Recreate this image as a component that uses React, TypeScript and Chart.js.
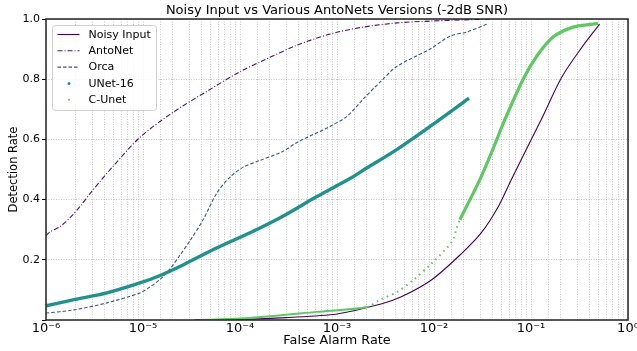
import React, { useEffect, useRef } from 'react';
import { Chart, registerables } from 'chart.js';

Chart.register(...registerables);

const TITLE = 'Noisy Input vs Various AntoNets Versions (-2dB SNR)';
const X_LABEL = 'False Alarm Rate';
const Y_LABEL = 'Detection Rate';

const SERIES_NAMES = ['Noisy Input', 'AntoNet', 'Orca', 'UNet-16', 'C-Unet'];

// Noisy Input
const noisyFar = [3.4e-5, 1e-4, 3e-4, 1e-3, 2.84e-3, 4.6e-3, 9.4e-3, 1.91e-2, 3.08e-2, 4.61e-2, 6.28e-2, 0.128, 0.206, 0.333, 0.51];
const noisyDr = [0.0, 0.002, 0.008, 0.02, 0.053, 0.077, 0.133, 0.22, 0.29, 0.377, 0.467, 0.667, 0.805, 0.905, 0.983];

// AntoNet
const antoFar = [1.0e-6, 1.1e-6, 1.39e-6, 1.77e-6, 2.24e-6, 2.84e-6, 3.6e-6, 4.9e-6, 9.3e-6, 2.04e-5, 4.57e-5, 1.0e-4, 1.73e-4, 3.87e-4, 8.47e-4, 1.85e-3, 4.16e-3, 9.1e-3, 1.99e-2, 3.78e-2];
const antoDr = [0.28, 0.293, 0.31, 0.34, 0.377, 0.42, 0.46, 0.51, 0.607, 0.69, 0.76, 0.825, 0.862, 0.913, 0.95, 0.973, 0.987, 0.993, 0.997, 1.0];

// Orca
const orcaFar = [1.0e-6, 1.9e-6, 4.25e-6, 9.3e-6, 1.18e-5, 1.5e-5, 1.9e-5, 2.4e-5, 3.05e-5, 4.16e-5, 5.8e-5, 7.9e-5, 1.07e-4, 1.6e-4, 2.77e-4, 3.87e-4, 8.47e-4, 1.27e-3, 1.85e-3, 2.77e-3, 4.16e-3, 9.1e-3, 1.46e-2, 2.19e-2, 3.52e-2];
const orcaDr = [0.023, 0.033, 0.057, 0.09, 0.11, 0.135, 0.17, 0.215, 0.263, 0.333, 0.423, 0.475, 0.507, 0.53, 0.56, 0.59, 0.643, 0.677, 0.733, 0.79, 0.843, 0.9, 0.943, 0.957, 0.983];

// UNet-16
const unetFar = [1e-6, 1.9e-6, 4.25e-6, 9.3e-6, 1.5e-5, 2.58e-5, 5.8e-5, 1.27e-4, 2.77e-4, 6.2e-4, 1.36e-3, 1.85e-3, 4.16e-3, 9.1e-3, 2.3e-2];
const unetDr = [0.047, 0.067, 0.09, 0.123, 0.148, 0.183, 0.24, 0.29, 0.345, 0.41, 0.47, 0.497, 0.567, 0.643, 0.737];

// C-Unet
const cunetFar = [3.87e-5, 1.27e-4, 6.2e-4, 2.04e-3, 2.77e-3, 4.16e-3, 6.1e-3, 9.1e-3, 1.53e-2, 1.73e-2, 1.85e-2, 2.35e-2, 2.98e-2, 3.96e-2, 5.4e-2, 8.3e-2, 0.115, 0.169, 0.271, 0.436, 0.49];
const cunetDr = [0.0, 0.007, 0.027, 0.043, 0.067, 0.093, 0.133, 0.183, 0.26, 0.31, 0.333, 0.4, 0.467, 0.56, 0.667, 0.8, 0.877, 0.94, 0.973, 0.983, 0.985];

const X_TICK_VALUES = [1e-6, 1e-5, 1e-4, 1e-3, 1e-2, 1e-1, 1];
const X_TICK_LABELS = ['10⁻⁶', '10⁻⁵', '10⁻⁴', '10⁻³', '10⁻²', '10⁻¹', '10⁰'];
const Y_TICK_VALUES = [0, 0.2, 0.4, 0.6, 0.8, 1.0];
const Y_TICK_LABELS = ['', '0.2', '0.4', '0.6', '0.8', '1.0'];

const COLORS = ['#440154', '#4a1070', '#3b528b', '#21918c', '#5ec962'];
const FONT = "'DejaVu Sans', sans-serif";

// C-Unet style breakpoints (where the curve changes from solid to sparse dots to thick)
const CUNET_SPARSE_FROM = 2.0e-3;
const CUNET_THICK_FROM = 1.8e-2;

const pts = (xs: number[], ys: number[]) => xs.map((x, i) => ({ x, y: ys[i] }));

const legendPlugin = {
  id: 'mplLegend',
  afterDraw(chart: any) {
    const { ctx, chartArea } = chart;
    const x0 = chartArea.left + 6.5;
    const y0 = chartArea.top + 6.5;
    const w = 104;
    const h = 85;
    const r = 3;
    ctx.save();
    ctx.beginPath();
    ctx.moveTo(x0 + r, y0);
    ctx.lineTo(x0 + w - r, y0);
    ctx.arcTo(x0 + w, y0, x0 + w, y0 + r, r);
    ctx.lineTo(x0 + w, y0 + h - r);
    ctx.arcTo(x0 + w, y0 + h, x0 + w - r, y0 + h, r);
    ctx.lineTo(x0 + r, y0 + h);
    ctx.arcTo(x0, y0 + h, x0, y0 + h - r, r);
    ctx.lineTo(x0, y0 + r);
    ctx.arcTo(x0, y0, x0 + r, y0, r);
    ctx.closePath();
    ctx.fillStyle = 'rgba(255,255,255,0.85)';
    ctx.fill();
    ctx.strokeStyle = '#d0d0d0';
    ctx.lineWidth = 1;
    ctx.stroke();
    chart.data.datasets.forEach((ds: any, i: number) => {
      const cy = y0 + 9 + i * 16.3;
      if (ds.legendMarker === 'dot') {
        ctx.beginPath();
        ctx.fillStyle = ds.borderColor;
        ctx.arc(x0 + 16.5, cy, ds.legendDot, 0, Math.PI * 2);
        ctx.fill();
      } else {
        ctx.beginPath();
        ctx.setLineDash(ds.borderDash || []);
        ctx.strokeStyle = ds.borderColor;
        ctx.lineWidth = ds.borderWidth;
        ctx.moveTo(x0 + 5, cy);
        ctx.lineTo(x0 + 27, cy);
        ctx.stroke();
        ctx.setLineDash([]);
      }
      ctx.fillStyle = '#000';
      ctx.font = `11px ${FONT}`;
      ctx.textBaseline = 'middle';
      ctx.textAlign = 'left';
      ctx.fillText(ds.label, x0 + 36, cy + 0.5);
    });
    ctx.restore();
  },
};

const framePlugin = {
  id: 'frame',
  afterDatasetsDraw(chart: any) {
    const { ctx, chartArea } = chart;
    ctx.save();
    ctx.strokeStyle = '#222';
    ctx.lineWidth = 1.5;
    ctx.strokeRect(chartArea.left, chartArea.top, chartArea.right - chartArea.left, chartArea.bottom - chartArea.top);
    ctx.restore();
  },
};

export default function App() {
  const ref = useRef<HTMLCanvasElement | null>(null);

  useEffect(() => {
    const canvas = ref.current;
    if (!canvas) return;
    const chart = new Chart(canvas, {
      type: 'scatter',
      data: {
        datasets: [
          {
            label: SERIES_NAMES[0],
            data: pts(noisyFar, noisyDr),
            showLine: true,
            borderColor: COLORS[0],
            backgroundColor: COLORS[0],
            borderWidth: 1.1,
            pointRadius: 0,
            tension: 0.3,
            order: 5,
          },
          {
            label: SERIES_NAMES[1],
            data: pts(antoFar, antoDr),
            showLine: true,
            borderColor: COLORS[1],
            backgroundColor: COLORS[1],
            borderWidth: 1.1,
            borderDash: [5, 2, 1, 2],
            pointRadius: 0,
            tension: 0.3,
            order: 4,
          },
          {
            label: SERIES_NAMES[2],
            data: pts(orcaFar, orcaDr),
            showLine: true,
            borderColor: COLORS[2],
            backgroundColor: COLORS[2],
            borderWidth: 1.1,
            borderDash: [3.5, 2],
            pointRadius: 0,
            tension: 0.3,
            order: 3,
          },
          {
            label: SERIES_NAMES[3],
            data: pts(unetFar, unetDr),
            showLine: true,
            borderColor: COLORS[3],
            backgroundColor: COLORS[3],
            borderWidth: 3.4,
            pointRadius: 0,
            tension: 0.3,
            order: 2,
            legendMarker: 'dot',
            legendDot: 1.5,
          } as any,
          {
            label: SERIES_NAMES[4],
            data: pts(cunetFar, cunetDr),
            showLine: true,
            borderColor: COLORS[4],
            backgroundColor: COLORS[4],
            borderWidth: 2,
            pointRadius: 0,
            tension: 0.3,
            order: 1,
            legendMarker: 'dot',
            legendDot: 1,
            segment: {
              borderWidth: (c: any) => (c.p0.parsed.x >= CUNET_THICK_FROM ? 3.2 : 2),
              borderDash: (c: any) =>
                c.p0.parsed.x >= CUNET_SPARSE_FROM && c.p0.parsed.x < CUNET_THICK_FROM ? [1.6, 4] : undefined,
            },
          } as any,
        ],
      },
      options: {
        animation: false,
        responsive: false,
        devicePixelRatio: 1,
        layout: { padding: { left: 0, right: 9, top: 0, bottom: 0 } },
        plugins: {
          legend: { display: false },
          tooltip: { enabled: false },
          title: {
            display: true,
            text: TITLE,
            fullSize: false,
            color: '#000',
            font: { family: FONT, size: 13, weight: 'normal', lineHeight: 1.2 },
            padding: { top: 2.6, bottom: 0.8 },
          },
        },
        scales: {
          x: {
            type: 'logarithmic',
            position: 'bottom',
            min: 1e-6,
            max: 1,
            afterFit: (s: any) => {
              s.height = 31;
              s.paddingLeft = 0;
              s.paddingRight = 0;
            },
            ticks: {
              autoSkip: false,
              maxRotation: 0,
              minRotation: 0,
              padding: 0,
              color: '#000',
              font: { family: FONT, size: 13 },
              callback: (v: any) => {
                const idx = X_TICK_VALUES.findIndex((t) => Math.abs(Math.log10(t) - Math.log10(Number(v))) < 1e-6);
                return idx >= 0 ? X_TICK_LABELS[idx] : '';
              },
            },
            grid: { color: '#b8b8b8', lineWidth: 0.8, drawTicks: true, tickLength: 1, tickColor: 'rgba(0,0,0,0)' },
            border: { display: false, dash: [1, 1.5] },
            title: {
              display: true,
              text: X_LABEL,
              color: '#000',
              font: { family: FONT, size: 12.8 },
              padding: { top: 0, bottom: 2.3 },
            },
          },
          y: {
            type: 'linear',
            min: 0,
            max: 1,
            afterBuildTicks: (s: any) => {
              s.ticks = Y_TICK_VALUES.map((v) => ({ value: v }));
            },
            afterFit: (s: any) => {
              s.width = 46;
              s.paddingTop = 0;
              s.paddingBottom = 0;
            },
            ticks: {
              padding: 2,
              color: '#000',
              font: { family: FONT, size: 11 },
              callback: (v: any) => {
                const idx = Y_TICK_VALUES.findIndex((t) => Math.abs(t - Number(v)) < 1e-9);
                return idx >= 0 ? Y_TICK_LABELS[idx] : '';
              },
            },
            grid: { color: '#b8b8b8', lineWidth: 0.8, drawTicks: true, tickLength: 4, tickColor: '#000', tickWidth: 1 },
            border: { display: false, dash: [1, 1.5] },
            title: {
              display: true,
              text: Y_LABEL,
              color: '#000',
              font: { family: FONT, size: 11.5 },
              padding: { top: 7.5, bottom: 0 },
            },
          },
        },
      },
      plugins: [framePlugin, legendPlugin],
    } as any);
    return () => chart.destroy();
  }, []);

  return (
    <div style={{ position: 'absolute', left: 0, top: 0, width: 637, height: 351 }}>
      <canvas ref={ref} width={637} height={351} style={{ display: 'block' }} />
    </div>
  );
}
